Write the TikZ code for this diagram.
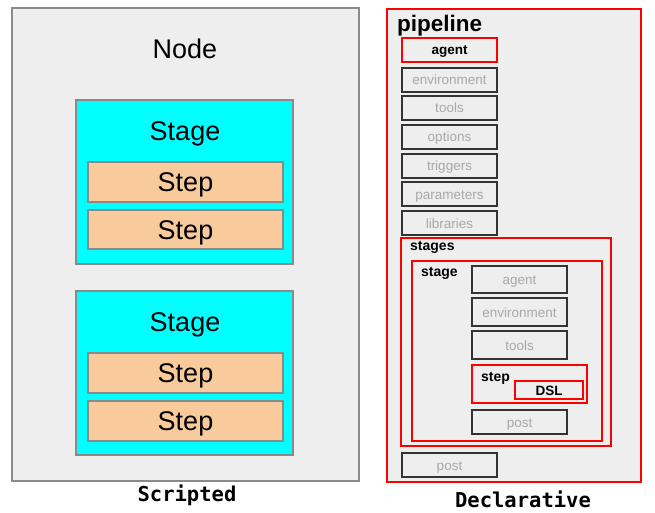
\documentclass[tikz,border=0pt]{standalone}
\usepackage{fontspec}
\setmainfont{Liberation Sans}
\newfontfamily\monob{DejaVu Sans Mono}
\definecolor{panelgray}{HTML}{EEEEEE}
\definecolor{leftborder}{HTML}{8A8A8A}
\definecolor{stagecyan}{HTML}{00FFFF}
\definecolor{stepfill}{HTML}{F9CB9C}
\definecolor{boxborder}{HTML}{333333}
\definecolor{ghosttext}{HTML}{A8A8A8}
\definecolor{redline}{HTML}{FF0000}
\begin{document}
\begin{tikzpicture}[x=1pt,y=-1pt,
  base/.style={rectangle, anchor=north west, inner sep=0pt, outer sep=0pt, text height=10pt, text depth=0pt},
  leftpanel/.style={base, draw=leftborder, line width=1.2pt, fill=panelgray},
  stagebox/.style={base, draw=leftborder, line width=1.2pt, fill=stagecyan},
  stepbox/.style={base, draw=leftborder, line width=1.2pt, fill=stepfill, font=\fontsize{27}{30}\selectfont, text height=19.5pt},
  bigtext/.style={font=\fontsize{27}{30}\selectfont, inner sep=0pt, text height=19.5pt, text depth=0pt},
  redbox/.style={base, draw=redline, line width=1.8pt},
  ghostbox/.style={base, draw=boxborder, line width=1.6pt, text=ghosttext, font=\fontsize{13.5}{15}\selectfont},
  boldlabel/.style={anchor=base west, inner sep=0pt, font=\fontsize{14}{16}\selectfont\bfseries},
  caption/.style={inner sep=0pt, font=\fontsize{20.5}{24}\monob\bfseries}
]
\useasboundingbox (0,0) rectangle (655,513);
% ---------- Scripted ----------
\node[leftpanel, minimum width=347pt, minimum height=473pt] (nodebox) at (12,8) {};
\node[bigtext] (nodelbl) at (185,49) {Node};
\node[stagebox, minimum width=217pt, minimum height=164pt] (stageA) at (76,100) {};
\node[bigtext] (stageAlbl) at (185,130.5) {Stage};
\node[stepbox, minimum width=195pt, minimum height=40pt] (stepA1) at (88,162) {Step};
\node[stepbox, minimum width=195pt, minimum height=39pt] (stepA2) at (88,210) {Step};
\node[stagebox, minimum width=217pt, minimum height=164pt] (stageB) at (76,291) {};
\node[bigtext] (stageBlbl) at (185,321.5) {Stage};
\node[stepbox, minimum width=195pt, minimum height=40pt] (stepB1) at (88,353) {Step};
\node[stepbox, minimum width=195pt, minimum height=40pt] (stepB2) at (88,401) {Step};
\node[caption] (scripted) at (187,495) {Scripted};
% ---------- Declarative ----------
\node[redbox, fill=panelgray, minimum width=254pt, minimum height=473pt] (pipe) at (387,9) {};
\node[anchor=base west, inner sep=0pt, font=\fontsize{22.5}{25}\selectfont\bfseries] (pipelbl) at (397,31.5) {pipeline};
\node[redbox, minimum width=95pt, minimum height=24pt, font=\fontsize{13.5}{15}\selectfont\bfseries] (agent) at (402,38) {agent};
\node[ghostbox, minimum width=95pt, minimum height=24pt] (env) at (402,68) {environment};
\node[ghostbox, minimum width=95pt, minimum height=24pt] (tools) at (402,96) {tools};
\node[ghostbox, minimum width=95pt, minimum height=24pt] (options) at (402,125) {options};
\node[ghostbox, minimum width=95pt, minimum height=24pt] (triggers) at (402,154) {triggers};
\node[ghostbox, minimum width=95pt, minimum height=24pt] (params) at (402,182) {parameters};
\node[ghostbox, minimum width=95pt, minimum height=24pt] (libs) at (402,211) {libraries};
\node[redbox, minimum width=210pt, minimum height=208pt] (stages) at (401,238) {};
\node[boldlabel] (stageslbl) at (410,250) {stages};
\node[redbox, minimum width=190pt, minimum height=180pt] (stage) at (412,261) {};
\node[boldlabel] (stagelbl) at (421,276) {stage};
\node[ghostbox, minimum width=95pt, minimum height=27pt] (sagent) at (472,266) {agent};
\node[ghostbox, minimum width=95pt, minimum height=28pt] (senv) at (472,298) {environment};
\node[ghostbox, minimum width=95pt, minimum height=28pt] (stools) at (472,331) {tools};
\node[redbox, minimum width=115pt, minimum height=38pt] (step) at (472,365) {};
\node[boldlabel] (steplbl) at (481,381) {step};
\node[redbox, minimum width=68pt, minimum height=18pt, font=\fontsize{13.5}{15}\selectfont\bfseries] (dsl) at (515,381) {DSL};
\node[ghostbox, minimum width=95pt, minimum height=24pt] (spost) at (472,410) {post};
\node[ghostbox, minimum width=95pt, minimum height=24pt] (post) at (402,453) {post};
\node[caption] (declarative) at (523,499) {Declarative};
\end{tikzpicture}
\end{document}
